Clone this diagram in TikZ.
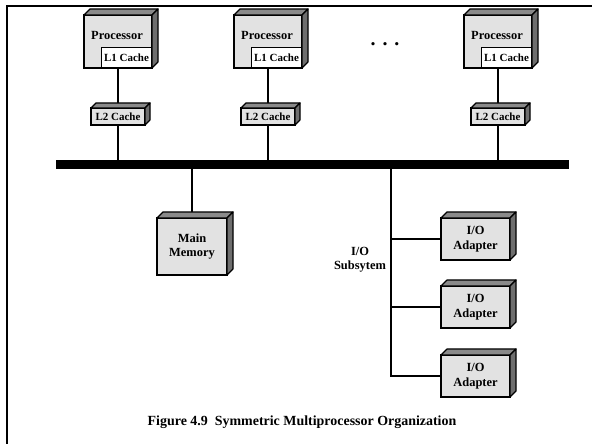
\documentclass[tikz,border=0pt]{standalone}
\usepackage{fontspec}
\setmainfont{Liberation Serif}
\usetikzlibrary{backgrounds}
\definecolor{frontgray}{HTML}{E2E2E2}
\definecolor{topgray}{HTML}{8A8A8A}
\definecolor{sidegray}{HTML}{6E6E6E}
\newcommand\cubefaces[2]{%
  \filldraw[fill=topgray,draw=black,line width=1.2bp,line join=round]
    (#1.north west) -- ([shift={(#2,#2)}]#1.north west) -- ([shift={(#2,#2)}]#1.north east) -- (#1.north east) -- cycle;
  \filldraw[fill=sidegray,draw=black,line width=1.2bp,line join=round]
    (#1.north east) -- ([shift={(#2,#2)}]#1.north east) -- ([shift={(#2,#2)}]#1.south east) -- (#1.south east) -- cycle;
}
\tikzset{
  cube/.style={draw=black,fill=frontgray,line width=1.4bp,outer sep=0pt,inner sep=0pt,
    font=\fontsize{12.5}{14.5}\selectfont\bfseries,align=center},
  cachebox/.style={draw=black,fill=white,line width=1.2bp,outer sep=0pt,inner sep=0pt,
    minimum width=50bp,minimum height=20bp,font=\fontsize{11}{12}\selectfont\bfseries},
  lbl/.style={font=\fontsize{12.5}{14.5}\selectfont\bfseries,align=center,inner sep=0pt},
  wire/.style={draw=black,line width=1.5bp},
  frameline/.style={draw=black,line width=2bp}
}
\begin{document}
\begin{tikzpicture}[x=1bp,y=1bp]
\useasboundingbox (0,0) rectangle (592,444);
% frame
\coordinate (ftr) at (592,438);
\coordinate (ftl) at (7,438);
\coordinate (fbl) at (7,0);
\draw[frameline] (ftr) -- (ftl) -- (fbl);

% processors
\foreach \i/\x in {1/118,2/268,3/498}{
  \node[cube,minimum width=68bp,minimum height=53bp] (p\i) at (\x,402.5) {};
  \cubefaces{p\i}{6}
  \node[cachebox,anchor=south east] (lone\i) at ([shift={(-0.5,0.5)}]p\i.south east) {L1 Cache};
  \node[lbl] (pt\i) at (\x-1,409) {Processor};
  \node[cube,minimum width=54bp,minimum height=17bp,font=\fontsize{11}{12}\selectfont\bfseries] (ltwo\i) at (\x,327.5) {L2 Cache};
  \cubefaces{ltwo\i}{5}
}
\node[lbl,font=\fontsize{20}{20}\selectfont\bfseries] (dots) at (385,400) {.\hspace{7bp}.\hspace{7bp}.};

% bus
\node[fill=black,inner sep=0pt,outer sep=0pt,minimum width=513bp,minimum height=9bp] (bus) at (312.5,279.5) {};

% main memory
\node[cube,minimum width=70bp,minimum height=57bp] (mm) at (192,197.5) {Main\\Memory};
\cubefaces{mm}{6}

% I/O adapters
\foreach \i/\y in {1/205,2/137,3/68}{
  \node[cube,minimum width=69bp,minimum height=42bp] (io\i) at (475.5,\y) {I/O\\Adapter};
  \cubefaces{io\i}{6}
}
\node[lbl] (iosub) at (360,184) {I/O\\Subsytem};

\coordinate (iotap) at (391,275);

\begin{scope}[on background layer]
  \foreach \i in {1,2,3}{
    \draw[wire] (p\i.south) -- (ltwo\i.north);
    \draw[wire] (ltwo\i.south) -- (ltwo\i.south |- bus.north);
  }
  \draw[wire] (bus.south -| mm.north) -- (mm.north);
  \draw[wire] (iotap) |- (io3.west);
  \draw[wire] (io1.west) -- (io1.west -| iotap);
  \draw[wire] (io2.west) -- (io2.west -| iotap);
\end{scope}

\node[lbl,font=\fontsize{14}{16}\selectfont\bfseries] (caption) at (302,22) {Figure 4.9\ \ Symmetric Multiprocessor Organization};
\end{tikzpicture}
\end{document}
